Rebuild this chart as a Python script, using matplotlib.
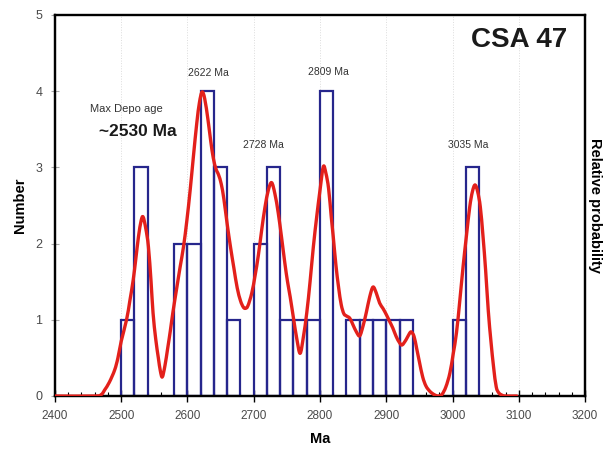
import numpy as np
import matplotlib
matplotlib.use("Agg")
import matplotlib.pyplot as plt
from matplotlib.ticker import MultipleLocator
from matplotlib.path import Path
from matplotlib.patches import PathPatch

plt.rcParams['font.family'] = ['Liberation Sans', 'DejaVu Sans']

# Histogram of detrital zircon ages (20 Ma bins)
bin_left = [2500, 2520, 2580, 2600, 2620, 2640, 2660, 2700, 2720, 2740, 2760, 2780,
            2800, 2840, 2860, 2880, 2900, 2920, 3000, 3020]
bin_count = [1, 3, 2, 2, 4, 3, 1, 2, 3, 1, 1, 1,
             4, 1, 1, 1, 1, 1, 1, 3]
bin_width = 20

# Relative probability curve (age in Ma, value on the count scale)
curve_age = [2400, 2460, 2470, 2475, 2482, 2490, 2495, 2500, 2508, 2513, 2518, 2522,
             2526, 2530, 2533, 2537, 2541, 2545, 2548, 2552, 2556, 2559, 2562, 2566,
             2570, 2574, 2578, 2584, 2589, 2594, 2599, 2604, 2609, 2614, 2618, 2622,
             2626, 2631, 2635, 2639, 2643, 2647, 2651, 2655, 2660, 2665, 2670, 2675,
             2680, 2684, 2687, 2691, 2697, 2702, 2707, 2712, 2717, 2722, 2727, 2732,
             2737, 2742, 2747, 2751, 2755, 2760, 2765, 2770, 2775, 2780, 2785, 2790,
             2795, 2800, 2805, 2809, 2813, 2817, 2820, 2824, 2828, 2832, 2836, 2840,
             2845, 2850, 2855, 2860, 2865, 2870, 2875, 2880, 2885, 2890, 2895, 2900,
             2905, 2910, 2915, 2920, 2924, 2930, 2935, 2938, 2942, 2946, 2950, 2955,
             2960, 2966, 2972, 2978, 2984, 2990, 2996, 3001, 3006, 3011, 3016, 3021,
             3026, 3030, 3034, 3038, 3042, 3046, 3050, 3054, 3058, 3062, 3066, 3070,
             3075, 3080, 3097]
curve_prob = [0.0, 0.0, 0.02, 0.08, 0.18, 0.34, 0.50, 0.72, 1.00, 1.25, 1.52, 1.80,
              2.09, 2.30, 2.35, 2.20, 1.96, 1.50, 1.09, 0.75, 0.50, 0.33, 0.25, 0.40,
              0.62, 0.85, 1.10, 1.43, 1.70, 1.96, 2.30, 2.70, 3.15, 3.58, 3.85, 3.99,
              3.90, 3.62, 3.35, 3.12, 2.98, 2.90, 2.78, 2.58, 2.25, 1.95, 1.68, 1.42,
              1.25, 1.17, 1.15, 1.18, 1.35, 1.58, 1.85, 2.18, 2.48, 2.70, 2.80, 2.65,
              2.40, 2.08, 1.74, 1.50, 1.30, 1.02, 0.75, 0.56, 0.78, 1.09, 1.50, 1.96,
              2.35, 2.70, 3.01, 2.92, 2.72, 2.35, 2.09, 1.72, 1.43, 1.20, 1.08, 1.05,
              1.02, 0.93, 0.84, 0.79, 0.92, 1.10, 1.30, 1.43, 1.35, 1.22, 1.15, 1.07,
              0.98, 0.89, 0.78, 0.70, 0.67, 0.74, 0.82, 0.84, 0.78, 0.62, 0.45, 0.25,
              0.13, 0.06, 0.02, 0.00, 0.02, 0.12, 0.30, 0.55, 0.83, 1.25, 1.70, 2.10,
              2.48, 2.68, 2.77, 2.68, 2.48, 2.10, 1.65, 1.12, 0.72, 0.38, 0.12, 0.04,
              0.01, 0.0, 0.0]

# Peak labels
peak_labels = ["2622 Ma", "2809 Ma", "2728 Ma", "3035 Ma"]
peak_x = [2631, 2812, 2714, 3023]
peak_y = [4.24, 4.25, 3.29, 3.29]

sample_name = "CSA 47"


def smooth_path(xs, ys):
    """Cubic Bezier path passing through every point (Catmull-Rom tangents)."""
    p = np.column_stack([xs, ys]).astype(float)
    verts = [p[0]]
    codes = [Path.MOVETO]
    n = len(p)
    for i in range(n - 1):
        p0 = p[i - 1] if i > 0 else p[i]
        p1 = p[i]
        p2 = p[i + 1]
        p3 = p[i + 2] if i + 2 < n else p[i + 1]
        c1 = p1 + (p2 - p0) / 6.0
        c2 = p2 - (p3 - p1) / 6.0
        verts += [c1, c2, p2]
        codes += [Path.CURVE4] * 3
    return Path(verts, codes)


fig = plt.figure(figsize=(6.09, 4.5), dpi=100)
ax = fig.add_axes([0.0903, 0.12, 0.8703, 0.8467])

ax.set_xlim(2400, 3200)
ax.set_ylim(0, 5)

# faint vertical guides at each century
for gx in range(2500, 3200, 100):
    ax.axvline(gx, color='#dcdcdc', lw=0.7, ls=':', zorder=0)

ax.bar(bin_left, bin_count, width=bin_width, align='edge', fill=False,
       edgecolor='#26268c', linewidth=1.6, zorder=2)

ax2 = ax.twinx()
ax2.set_ylim(0, 5)
ax2.add_patch(PathPatch(smooth_path(curve_age, curve_prob), fill=False,
                        edgecolor='#e3201b', lw=2.4, capstyle='round',
                        joinstyle='round', zorder=3))
ax2.set_yticks([])
ax2.set_ylabel("Relative probability", rotation=-90, labelpad=12,
               fontsize=10.5, fontweight='bold')

for a in (ax, ax2):
    for s in a.spines.values():
        s.set_linewidth(1.6)
        s.set_color('black')
ax.spines['top'].set_color('#444444')

ax.xaxis.set_major_locator(MultipleLocator(100))
ax.xaxis.set_minor_locator(MultipleLocator(20))
ax.tick_params(axis='x', which='major', direction='inout', length=8, width=1.0,
               colors='black', labelcolor='#4a4a4a', labelsize=8.5, pad=6)
ax.tick_params(axis='x', which='minor', direction='in', length=3, width=0.8)
ax.tick_params(axis='y', which='major', direction='inout', length=6, width=0.8,
               colors='#aaaaaa', labelcolor='#4a4a4a', labelsize=9, pad=6)
ax.yaxis.set_major_locator(MultipleLocator(1))

ax.set_xlabel("Ma", fontsize=10.5, fontweight='bold', labelpad=7)
ax.set_ylabel("Number", fontsize=10.5, fontweight='bold', labelpad=6)

for lbl, x, y in zip(peak_labels, peak_x, peak_y):
    ax.text(x, y, lbl, ha='center', va='center', fontsize=7.5, color='#333333', zorder=5)

ax.text(2508, 3.76, "Max Depo age", ha='center', va='center', fontsize=8,
        color='#333333', zorder=5)
ax.text(2525, 3.47, "~2530 Ma", ha='center', va='center', fontsize=12.5,
        fontweight='bold', color='#1a1a1a', zorder=5)
ax.text(3100, 4.67, sample_name, ha='center', va='center', fontsize=20,
        fontweight='bold', color='#1a1a1a', zorder=5)

fig.savefig("out.png", dpi=100)
